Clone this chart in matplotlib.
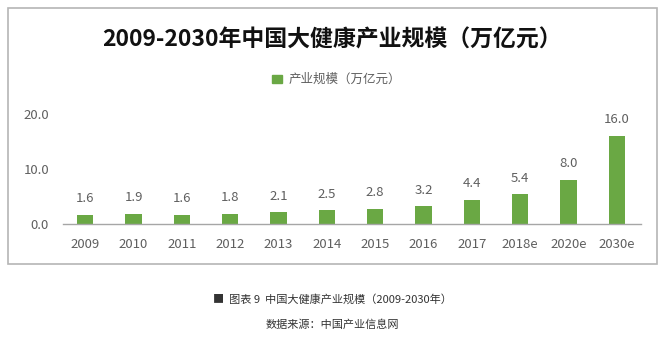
import matplotlib
matplotlib.use("Agg")
import matplotlib.pyplot as plt
from matplotlib.patches import Rectangle

plt.rcParams['font.family'] = ['Noto Sans CJK SC', 'DejaVu Sans']

# data
years = ["2009", "2010", "2011", "2012", "2013", "2014", "2015", "2016",
         "2017", "2018e", "2020e", "2030e"]
scale = [1.6, 1.9, 1.6, 1.8, 2.1, 2.5, 2.8, 3.2, 4.4, 5.4, 8.0, 16.0]
y_ticks = [0, 10, 20]

green = "#6aa844"
grey_txt = "#5f5f5f"

fig = plt.figure(figsize=(6.64, 3.4), dpi=100)
fig.patch.set_facecolor("white")

# outer frame of the chart card
fig.patches.append(Rectangle((8/664, 76/340), 649/664, 256/340,
                             transform=fig.transFigure, fill=False,
                             edgecolor="#b5b5b5", linewidth=1.2))

ax = fig.add_axes([63/664, 116/340, 578/664, 110/340])
x = range(len(years))
bars = ax.bar(x, scale, width=0.34, color=green, zorder=2)

for xi, v in zip(x, scale):
    ax.annotate(f"{v:.1f}", (xi, v), xytext=(0, 7), textcoords="offset points",
                ha="center", va="bottom", fontsize=9.5, color=grey_txt)

ax.set_xlim(-0.46, 11.5)
ax.set_ylim(0, 20)
ax.set_yticks(y_ticks)
ax.set_yticklabels([f"{t:.1f}" for t in y_ticks])
ax.set_xticks(list(x))
ax.set_xticklabels(years)
ax.tick_params(axis="both", length=0, labelsize=9.5, labelcolor=grey_txt)
ax.tick_params(axis="x", pad=10)
ax.tick_params(axis="y", pad=10)
for s in ["top", "right", "left"]:
    ax.spines[s].set_visible(False)
ax.spines["bottom"].set_color("#a6a6a6")
ax.spines["bottom"].set_linewidth(1.0)

fig.text(0.5, 300/340, "2009-2030年中国大健康产业规模（万亿元）", ha="center",
         va="center", fontsize=16.5, fontweight="bold", color="#111111")

# legend
fig.patches.append(Rectangle((272/664, 257/340), 10/664, 8/340,
                             transform=fig.transFigure, color=green))
fig.text(289/664, 261/340, "产业规模（万亿元）", ha="left", va="center",
         fontsize=9, color=grey_txt)

fig.text(0.5, 41/340, "■  图表 9  中国大健康产业规模（2009-2030年）", ha="center",
         va="center", fontsize=8, color="#333333")
fig.text(0.5, 15/340, "数据来源：中国产业信息网", ha="center", va="center",
         fontsize=8, color="#333333")

fig.savefig("out.png", dpi=100, facecolor=fig.get_facecolor())
